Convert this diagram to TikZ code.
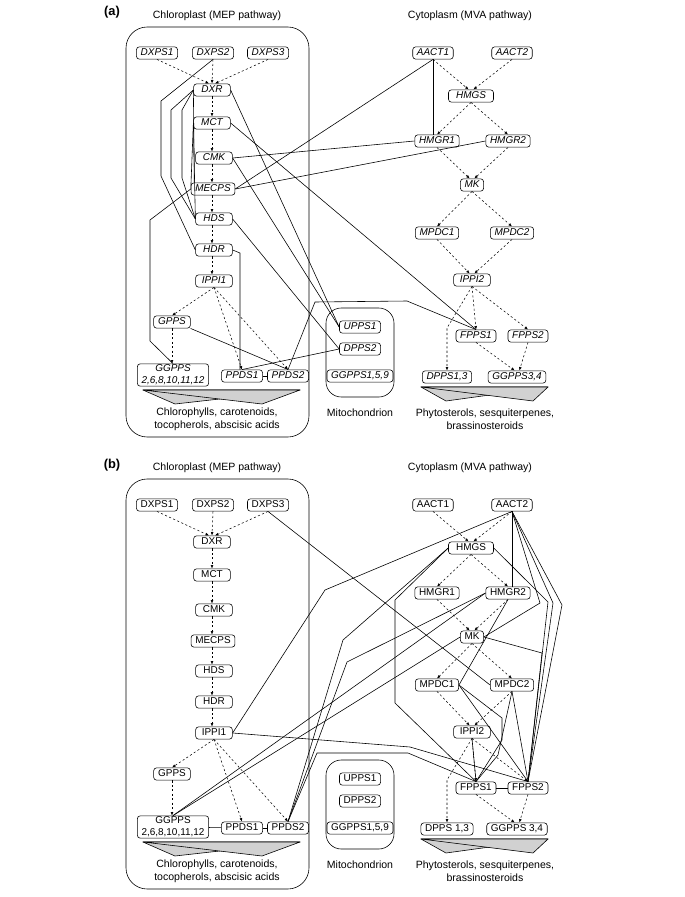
\documentclass[tikz,border=0pt]{standalone}
\usepackage{fontspec}
\setmainfont{Liberation Sans}
\usetikzlibrary{arrows.meta}
\tikzset{
  box/.style={draw, rounded corners=2.5pt, inner xsep=3.6pt, inner ysep=1.3pt, line width=0.5pt, font=\fontsize{8.5}{10}\selectfont},
  enz/.style={box, minimum width=1.1cm, text height=6.2pt, text depth=1.7pt},
  dasharr/.style={line width=0.45pt, dash pattern=on 1.8pt off 2pt, -{Latex[length=3pt,width=2.4pt]}},
  link/.style={line width=0.5pt, line join=round},
  compart/.style={draw, line width=0.5pt, rounded corners=18pt},
  funnel/.style={draw, fill=black!18, line width=0.5pt, line join=round},
  lbl/.style={font=\fontsize{9}{11}\selectfont, align=center},
  tag/.style={font=\bfseries\fontsize{11}{13}\selectfont}
}

\begin{document}
\begin{tikzpicture}[x=0.03cm, y=-0.03cm]
			%%%%% START %%%%%
			\useasboundingbox (0,0) rectangle (685,897);
			
			\node[tag] (atag) at (112,12) {(a)};
			\node[tag] (btag) at (112,465) {(b)};
			
			% both panels share the same skeleton
			\foreach \p/\dy/\shp/\dl/\gl in {a/0/\itshape/{DPPS1,3}/{GGPPS3,4}, b/452/\upshape/{DPPS 1,3}/{GGPPS 3,4}}{
			\begin{scope}[shift={(0,\dy)}, box/.append style={font=\fontsize{8.5}{10}\selectfont\shp}]
			\draw[compart] (126,27) rectangle (309,437);
			\draw[compart, rounded corners=13pt] (326,308) rectangle (394,397);
			
			\node[lbl] (\p chltitle) at (217,15.5) {Chloroplast (MEP pathway)};
			\node[lbl] (\p cyttitle) at (470,15.5) {Cytoplasm (MVA pathway)};
			
			\node[enz] (\p DXPS1) at (157,53) {DXPS1};
			\node[enz] (\p DXPS2) at (213,53) {DXPS2};
			\node[enz] (\p DXPS3) at (268,53) {DXPS3};
			\node[enz] (\p DXR) at (212,90) {DXR};
			\node[enz] (\p MCT) at (212,123) {MCT};
			\node[enz] (\p CMK) at (214,158) {CMK};
			\node[enz] (\p MECPS) at (213,189) {MECPS};
			\node[enz] (\p HDS) at (214,219) {HDS};
			\node[enz] (\p HDR) at (214,250) {HDR};
			\node[enz] (\p IPPI1) at (214,281) {IPPI1};
			\node[enz] (\p GPPS) at (172,322) {GPPS};
			\node[box, align=center, inner ysep=1pt] (\p GGPPS) at (173,375) {GGPPS\\2,6,8,10,11,12};
			\node[enz] (\p PPDS1) at (242,376) {PPDS1};
			\node[enz] (\p PPDS2) at (288,376) {PPDS2};
			
			\node[enz] (\p UPPS1) at (360,327) {UPPS1};
			\node[enz] (\p DPPS2) at (360,349) {DPPS2};
			\node[enz] (\p GGPPSm) at (360,376) {GGPPS1,5,9};
			
			\node[enz] (\p AACT1) at (433,53) {AACT1};
			\node[enz] (\p AACT2) at (512,53) {AACT2};
			\node[enz, minimum width=1.35cm] (\p HMGS) at (471,96) {HMGS};
			\node[enz] (\p HMGR1) at (437,141) {HMGR1};
			\node[enz] (\p HMGR2) at (508,141) {HMGR2};
			\node[enz, minimum width=0pt, inner xsep=3.5pt] (\p MK) at (472,185) {MK};
			\node[enz] (\p MPDC1) at (437,233) {MPDC1};
			\node[enz] (\p MPDC2) at (512,233) {MPDC2};
			\node[enz] (\p IPPI2) at (472,280) {IPPI2};
			\node[enz] (\p FPPS1) at (476,336) {FPPS1};
			\node[enz] (\p FPPS2) at (528,336) {FPPS2};
			\node[enz] (\p DPPS) at (447,377) {\dl};
			\node[enz] (\p GGPPSc) at (517,377) {\gl};
			
			\filldraw[funnel] (143,390) -- (300,390) -- (175,404) -- cycle;
			\filldraw[funnel] (143,390) -- (300,390) -- (262,404) -- cycle;
			\filldraw[funnel] (421,387) -- (548,387) -- (446,401) -- cycle;
			\filldraw[funnel] (421,387) -- (548,387) -- (533,401) -- cycle;
			
			\node[lbl] (\p chlend) at (217,419) {Chlorophylls, carotenoids,\\tocopherols, abscisic acids};
			\node[lbl] (\p mitend) at (360,413) {Mitochondrion};
			\node[lbl] (\p cytend) at (485,419) {Phytosterols, sesquiterpenes,\\brassinosteroids};
			
			% MEP steps
			\draw[dasharr] (\p DXPS1.south) -- ([xshift=-2.5pt]\p DXR.north);
			\draw[dasharr] (\p DXPS2.south) -- (\p DXR.north);
			\draw[dasharr] (\p DXPS3.south) -- ([xshift=2.5pt]\p DXR.north);
			\draw[dasharr] (\p DXR) -- (\p MCT);
			\draw[dasharr] (\p MCT) -- (\p CMK.north -| \p MCT);
			\draw[dasharr] (\p CMK.south -| \p MCT) -- (\p MECPS.north -| \p MCT);
			\draw[dasharr] (\p MECPS.south -| \p MCT) -- (\p HDS.north -| \p MCT);
			\draw[dasharr] (\p HDS.south -| \p MCT) -- (\p HDR.north -| \p MCT);
			\draw[dasharr] (\p HDR.south -| \p MCT) -- (\p IPPI1.north -| \p MCT);
			\draw[dasharr] (\p IPPI1.south) -- (\p GPPS.north);
			\draw[dasharr] (\p IPPI1.south) -- (\p PPDS1.north);
			\draw[dasharr] (\p IPPI1.south) -- (\p PPDS2.north);
			\draw[dasharr] (\p GPPS.south) -- (\p GGPPS.north -| \p GPPS);
			
			% MVA steps
			\draw[dasharr] (\p AACT1.south) -- ([xshift=-2pt]\p HMGS.north);
			\draw[dasharr] (\p AACT2.south) -- ([xshift=2pt]\p HMGS.north);
			\draw[dasharr] (\p HMGS.south) -- (\p HMGR1.north);
			\draw[dasharr] (\p HMGS.south) -- (\p HMGR2.north);
			\draw[dasharr] (\p HMGR1.south) -- ([xshift=-2pt]\p MK.north);
			\draw[dasharr] (\p HMGR2.south) -- ([xshift=2pt]\p MK.north);
			\draw[dasharr] (\p MK.south) -- (\p MPDC1.north);
			\draw[dasharr] (\p MK.south) -- (\p MPDC2.north);
			\draw[dasharr] (\p MPDC1.south) -- ([xshift=-2pt]\p IPPI2.north);
			\draw[dasharr] (\p MPDC2.south) -- ([xshift=2pt]\p IPPI2.north);
			\draw[dasharr] (\p IPPI2.south) -- (447,328) -- (\p DPPS.north);
			\draw[dasharr] (\p IPPI2.south) -- (\p FPPS1.north);
			\draw[dasharr] (\p IPPI2.south) -- (\p FPPS2.north);
			\draw[dasharr] (\p FPPS1.south) -- ([xshift=-2pt]\p GGPPSc.north);
			\draw[dasharr] (\p FPPS2.south) -- ([xshift=2pt]\p GGPPSc.north);
			
			\draw[link] (\p PPDS1) -- (\p PPDS2);
			\end{scope}
			}
			
			% panel (a): co-expression
			\draw[link] (aDXPS2.south) -- (161,101) -- (161,176) -- (aHDR.west);
			\draw[link] (aDXR.west) -- (171,110) -- (171,178) -- (aHDS.west);
			\draw[link] (aDXR.west) -- (182,110) -- (182,178) -- (aHDS.west);
			\draw[link] (aDXR.west) -- ([xshift=3pt]aMECPS.north west);
			\draw[link] (aMCT.west) -- (aHDS.west);
			\draw[link] (aMCT.west) -- (aMECPS.west);
			\draw[link] (aDXR.east) -- (aUPPS1.west);
			\draw[link] (aMCT.east) -- (aFPPS1.north);
			\draw[link] (aCMK.east) -- (aHMGR1.west);
			\draw[link] (aCMK.east) -- (aUPPS1.west);
			\draw[link] (aMECPS.east) -- (aHMGR2.west);
			\draw[link] (aMECPS.east) -- (aAACT1.south);
			\draw[link] (aMECPS.west) -- (150,220) -- (150,341) -- (aGGPPS.north);
			\draw[link] (aHDS.east) -- (aDPPS2.west);
			\draw[link] (aHDR.east) -- (240,253) -- (aPPDS1.north -| 240,0);
			\draw[link] (aGPPS.south east) -- (aPPDS2.north);
			\draw[link] (aPPDS1.north) -- (aDPPS2.west);
			\draw[link] (aPPDS2.north) -- (315,302) -- (407,301) -- (aFPPS1.north);
			\draw[link] (aAACT1.south) -- (aHMGR1.north -| aAACT1);
			
			% panel (b): co-expression
			\draw[link] (bGGPPS) -- (bPPDS1);
			\draw[link] (bFPPS1) -- (bFPPS2);
			\draw[link] (bDXPS3.south) -- (bMPDC2.west);
			\draw[link] (bIPPI1.east) -- (325,590) -- (bAACT2.south);
			\draw[link] (bIPPI1.east) -- (410,747) -- (bFPPS2.north);
			\draw[link] (bPPDS2.north) -- (317,753) -- (408,753) -- (bFPPS1.north);
			\draw[link] (bHMGS.west) -- (395,600) -- (395,703) -- (bFPPS1.north);
			\draw[link] (bHMGS.west) -- (343,640) -- (bPPDS2.north);
			\draw[link] (bHMGR2.west) -- (347,662) -- (bPPDS2.north);
			\draw[link] (bHMGR2.west) -- (bGGPPS.north);
			\draw[link] (bMK.west) -- (bGGPPS.north);
			\draw[link] (bAACT2.south) -- (bHMGR2.north -| bAACT2);
			\draw[link] (bAACT2.south) -- (540,603) -- (bMK.east);
			\draw[link] (bAACT2.south) -- (553,603) -- (bFPPS2.north);
			\draw[link] (bAACT2.south) -- (562,605) -- (bFPPS2.north);
			\draw[link] (bHMGS.east) -- (548,602) -- (bFPPS2.north);
			\draw[link] (bMK.east) -- (542,653) -- (bFPPS2.north);
			\draw[link] (bHMGR2.south) -- (bMPDC1.east);
			\draw[link] (bMPDC1.east) -- (502,718) -- (502,740) -- (bFPPS1.north);
			\draw[link] (bMPDC1.east) -- (bFPPS2.north);
			\draw[link] (bMPDC2.south) -- (bFPPS2.north);
			\draw[link] (bMPDC2.south) -- (498,755) -- (bFPPS1.north);
			\draw[link] (bIPPI2.south) -- (bFPPS1.north);
			
			%%%%% END %%%%%
\end{tikzpicture}
\end{document}
